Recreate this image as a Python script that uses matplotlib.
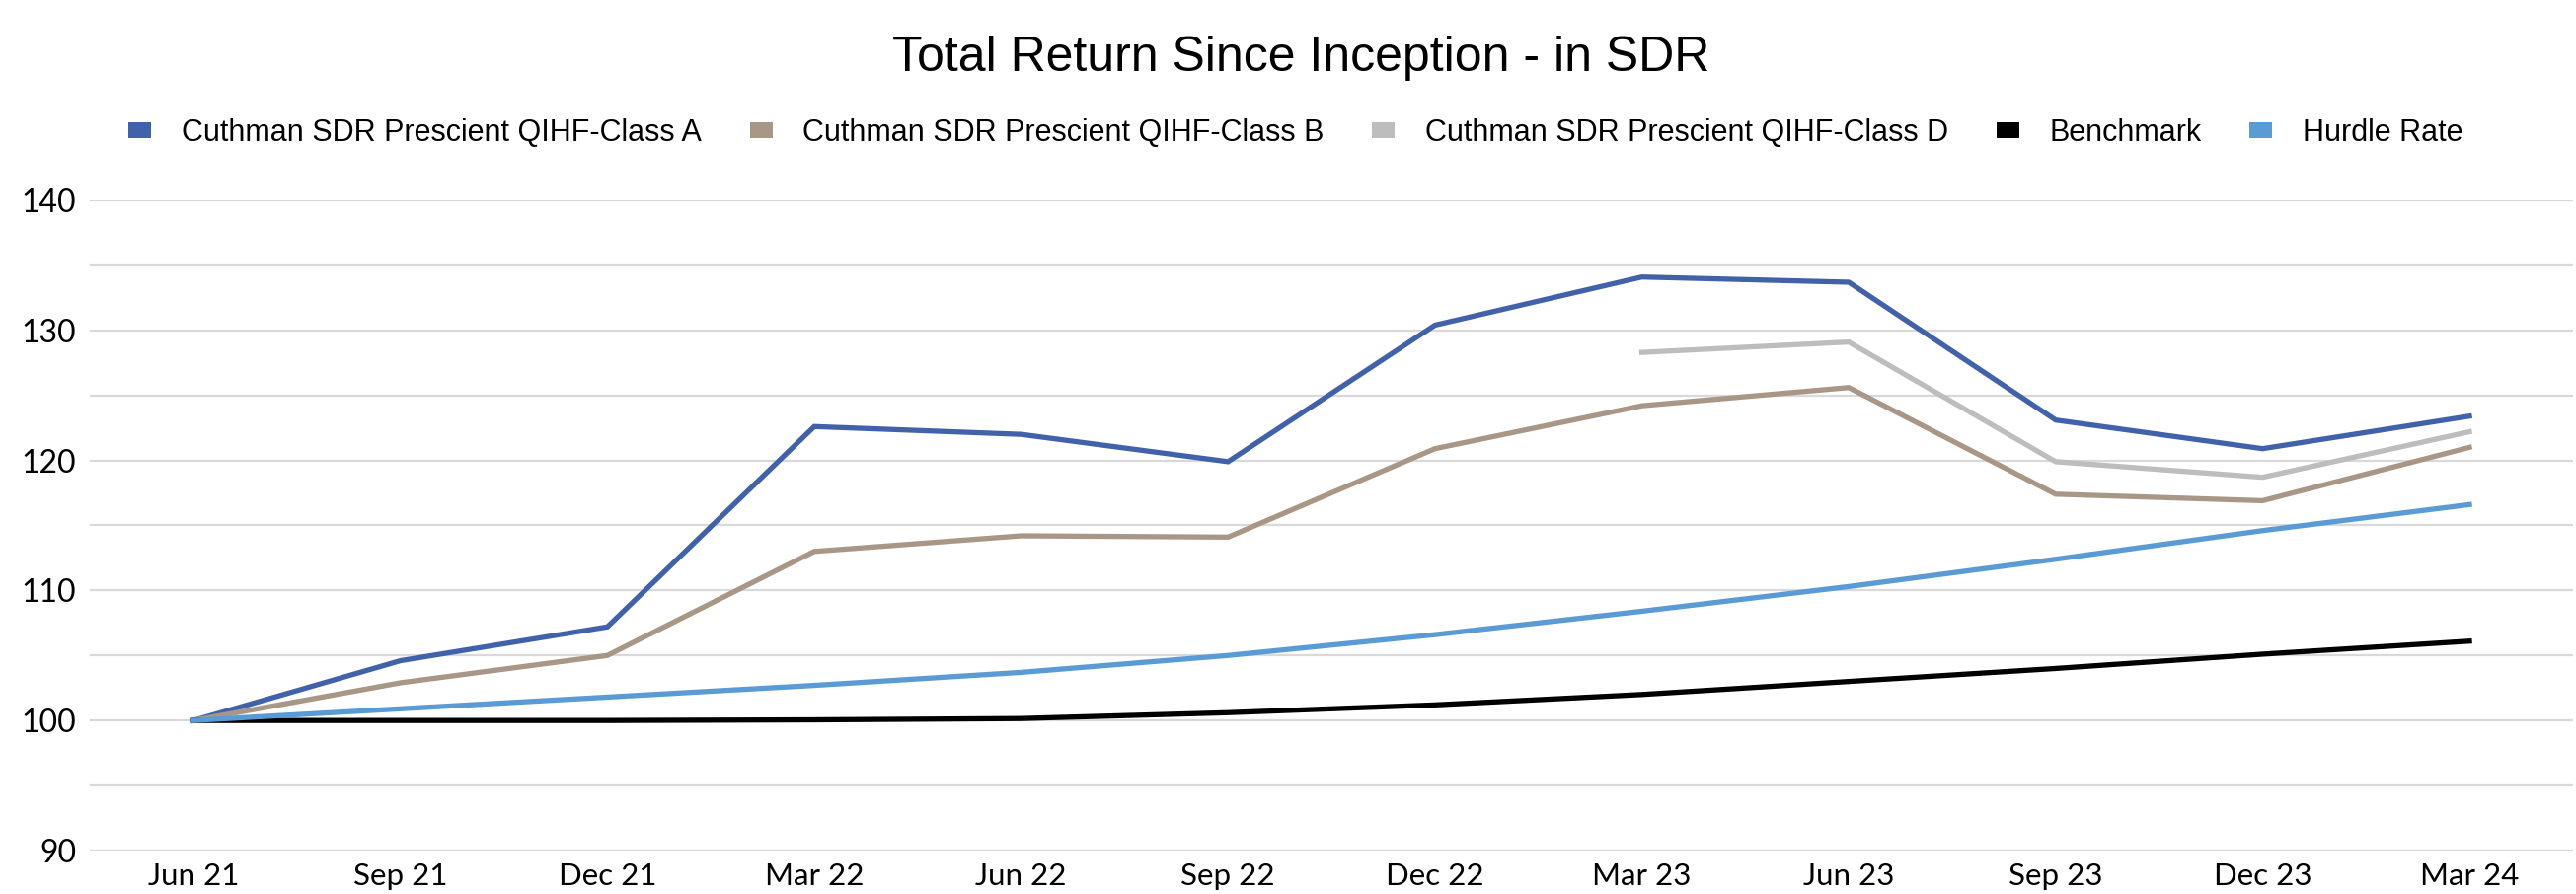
import numpy as np
import matplotlib
matplotlib.use("Agg")
import matplotlib.pyplot as plt
from matplotlib.patches import Patch

quarters = ["Jun 21", "Sep 21", "Dec 21", "Mar 22", "Jun 22", "Sep 22",
            "Dec 22", "Mar 23", "Jun 23", "Sep 23", "Dec 23", "Mar 24"]
class_a = [100, 104.6, 107.2, 122.6, 122.0, 119.9, 130.4, 134.1, 133.7, 123.1, 120.9, 123.4]
class_b = [100, 102.9, 105.0, 113.0, 114.2, 114.1, 120.9, 124.2, 125.6, 117.4, 116.9, 121.0]
class_d = [np.nan] * 7 + [128.3, 129.1, 119.9, 118.7, 122.2]
benchmark = [100, 100.0, 100.0, 100.05, 100.15, 100.6, 101.2, 102.0, 103.0, 104.0, 105.1, 106.1]
hurdle = [100, 100.9, 101.8, 102.7, 103.7, 105.0, 106.6, 108.4, 110.3, 112.4, 114.6, 116.6]

names = ["Cuthman SDR Prescient QIHF-Class A", "Cuthman SDR Prescient QIHF-Class B",
         "Cuthman SDR Prescient QIHF-Class D", "Benchmark", "Hurdle Rate"]
colors = ["#4162AA", "#A89786", "#BDBDBD", "#000000", "#5B9BD5"]
series = [class_a, class_b, class_d, benchmark, hurdle]

fig = plt.figure(figsize=(26.1, 9.06), dpi=100)
ax = fig.add_axes([0.035, 0.0486, 0.9638, 0.7274])
x = np.arange(len(quarters))
for s, c in zip(series, colors):
    ax.plot(x, s, color=c, lw=3.8, solid_joinstyle="miter", zorder=3)

ax.set_xlim(-0.5, 11.5)
ax.set_ylim(90, 140)
ax.set_yticks(np.arange(90, 141, 10))
ax.set_yticks(np.arange(95, 140, 10), minor=True)
ax.yaxis.grid(True, which="both", color="#D9D9D9", lw=1.6)
ax.set_axisbelow(True)
ax.set_xticks(x)
ax.set_xticklabels(quarters)
for sp in ax.spines.values():
    sp.set_visible(False)
ax.tick_params(axis="both", which="both", length=0, colors="#000000")
ax.tick_params(axis="y", pad=10, labelsize=23)
ax.tick_params(axis="x", pad=9, labelsize=22.5)
for lbl in ax.get_xticklabels() + ax.get_yticklabels():
    lbl.set_family(["Lato", "DejaVu Sans"])

fig.text(0.505, 0.935, "Total Return Since Inception - in SDR", ha="center", va="center",
         fontsize=36, family=["Liberation Sans", "DejaVu Sans"])

handles = [Patch(facecolor=c, edgecolor="none") for c in colors]
fig.legend(handles, names, loc="center", bbox_to_anchor=(0.503, 0.851), ncol=5, frameon=False,
           prop={"family": ["Liberation Sans Narrow", "Liberation Sans", "DejaVu Sans"], "size": 22},
           handlelength=0.75, handleheight=0.4, handletextpad=1.0, columnspacing=1.6)

fig.savefig("out.png", dpi=100)
